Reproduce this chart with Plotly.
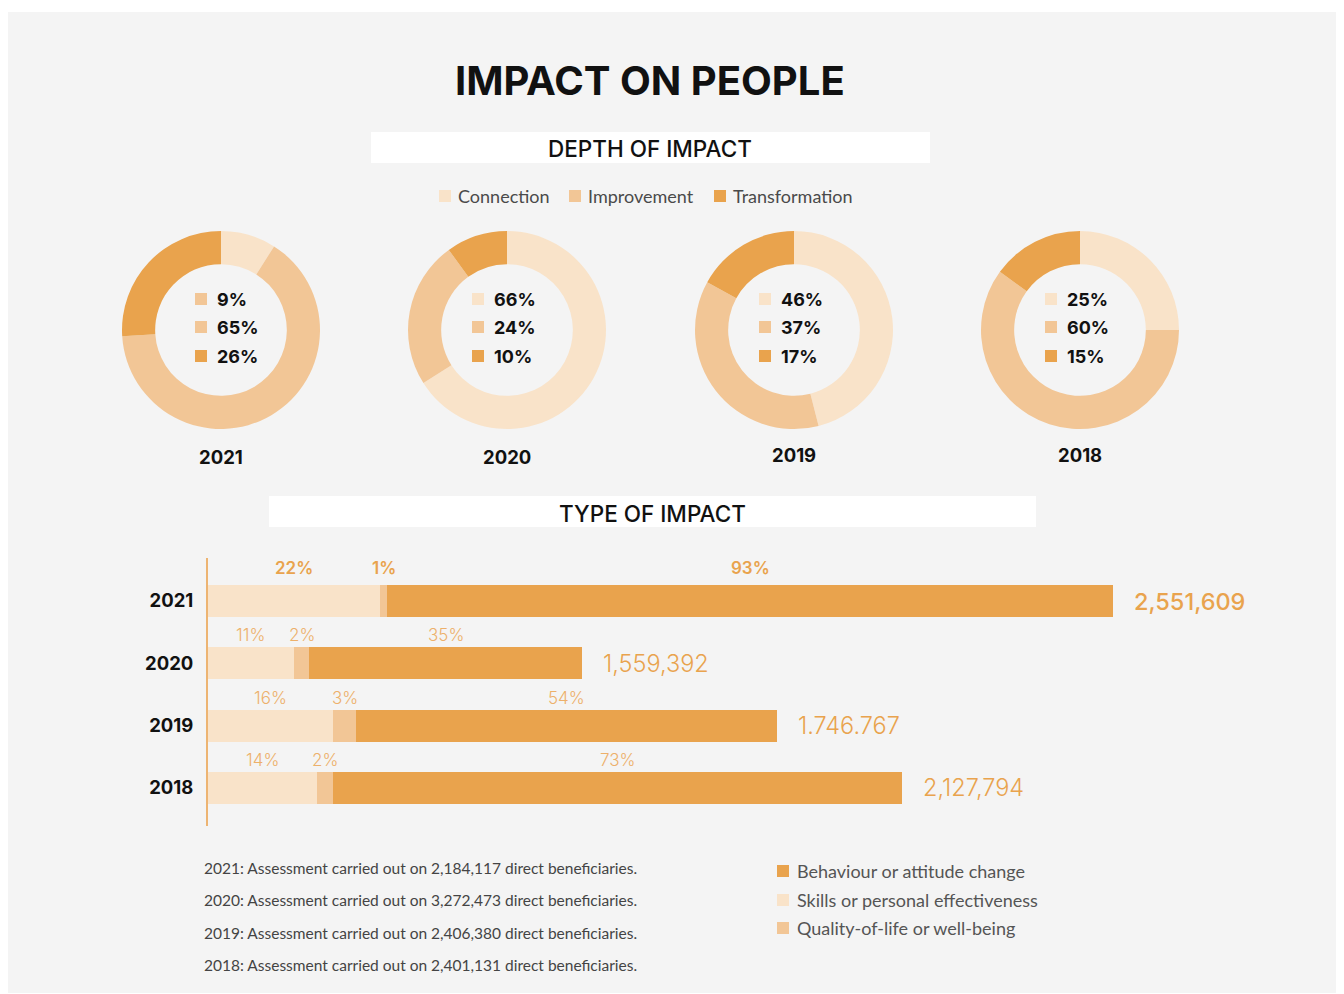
import plotly.graph_objects as go

W, H = 1344, 994

# ---------------- data ----------------
depth_categories = ["Connection", "Improvement", "Transformation"]
depth_years = ["2021", "2020", "2019", "2018"]
depth_2021 = [9, 65, 26]
depth_2020 = [66, 24, 10]
depth_2019 = [46, 37, 17]
depth_2018 = [25, 60, 15]
depth_values = [depth_2021, depth_2020, depth_2019, depth_2018]

type_years = ["2021", "2020", "2019", "2018"]
skills_pct = [22, 11, 16, 14]
quality_pct = [1, 2, 3, 2]
behaviour_pct = [93, 35, 54, 73]
totals_text = ["2,551,609", "1,559,392", "1.746.767", "2,127,794"]
type_legend = ["Behaviour or attitude change", "Skills or personal effectiveness",
               "Quality-of-life or well-being"]

footnotes = [
    "2021: Assessment carried out on 2,184,117 direct beneficiaries.",
    "2020: Assessment carried out on 3,272,473 direct beneficiaries.",
    "2019: Assessment carried out on 2,406,380 direct beneficiaries.",
    "2018: Assessment carried out on 2,401,131 direct beneficiaries.",
]

# ---------------- styles ----------------
C_CONN = "#F9E3C9"
C_IMPR = "#F2C696"
C_TRAN = "#E9A34D"
depth_colors = [C_CONN, C_IMPR, C_TRAN]
BG = "#F4F4F4"
HEAD = "Inter"
BODY = "Lato"
OFF = 8  # page body margin


def px(x):
    return (x - OFF) / W


def py(y):
    return 1 - (y - OFF) / H


fig = go.Figure()
shapes = []
ann = []


def txt(text, x, y, size, color, family=HEAD, weight=400, xanchor="center"):
    ann.append(dict(text=text, x=px(x), y=py(y), xref="paper", yref="paper",
                    xanchor=xanchor, yanchor="middle", showarrow=False,
                    font=dict(family=family, size=size, color=color, weight=weight)))


def square(x0, yc, col, s=12):
    shapes.append(dict(type="rect", xref="paper", yref="paper", x0=px(x0), x1=px(x0 + s),
                       y0=py(yc + s / 2), y1=py(yc - s / 2), fillcolor=col, line_width=0))


# background panel
shapes.append(dict(type="rect", xref="paper", yref="paper", x0=px(8), x1=px(1339),
                   y0=py(993), y1=py(12), fillcolor=BG, line_width=0, layer="below"))
# header boxes
shapes.append(dict(type="rect", xref="paper", yref="paper", x0=px(371), x1=px(930),
                   y0=py(163), y1=py(132), fillcolor="white", line_width=0, layer="below"))
shapes.append(dict(type="rect", xref="paper", yref="paper", x0=px(269), x1=px(1036),
                   y0=py(527), y1=py(496), fillcolor="white", line_width=0, layer="below"))

txt("IMPACT ON PEOPLE", 650, 81, 40, "#111", weight=700)
txt("DEPTH OF IMPACT", 650, 148, 22.5, "#111", weight=500)
txt("TYPE OF IMPACT", 652, 513, 22.5, "#111", weight=500)

# depth legend
leg_sq_x = [439, 569, 714]
for cat, col, sx in zip(depth_categories, depth_colors, leg_sq_x):
    square(sx, 196, col)
    txt(cat, sx + 17, 196, 18, "#4a4a4a", family=BODY, xanchor="left")

# donuts
centers = [221, 507, 794, 1080]
year_label_y = [457, 457, 455, 455]
R = 99
for i, (yr, vals, cx) in enumerate(zip(depth_years, depth_values, centers)):
    fig.add_trace(go.Pie(
        labels=depth_categories, values=vals, hole=0.665, sort=False,
        direction="clockwise", rotation=0, textinfo="none", hoverinfo="label+percent",
        marker=dict(colors=depth_colors, line=dict(width=0)), showlegend=False,
        domain=dict(x=[px(cx - R), px(cx + R)], y=[py(330 + R), py(330 - R)]),
    ))
    txt(yr, cx, year_label_y[i], 18.5, "#111", weight=700)
    sq_cols = [C_IMPR, C_IMPR, C_TRAN] if i == 0 else depth_colors
    off = -20 if i == 0 else -29
    for j, (v, rowy) in enumerate(zip(vals, [299, 327, 356])):
        square(cx + off - 6, rowy, sq_cols[j])
        txt(f"{v}%", cx + off + 14, rowy, 18, "#111", weight=700, xanchor="left")

# stacked bars
cat_order = ["2018", "2019", "2020", "2021"]
series = [("Skills or personal effectiveness", skills_pct, C_CONN),
          ("Quality-of-life or well-being", quality_pct, C_IMPR),
          ("Behaviour or attitude change", behaviour_pct, C_TRAN)]
for name, vals, col in series:
    fig.add_trace(go.Bar(
        name=name, y=type_years, x=vals, orientation="h", width=0.51,
        marker=dict(color=col, line=dict(width=0)), showlegend=False,
        xaxis="x", yaxis="y", hoverinfo="x+name",
    ))

for k, yr in enumerate(type_years):
    yi = cat_order.index(yr)
    segs = [skills_pct[k], quality_pct[k], behaviour_pct[k]]
    start = 0
    bold = (k == 0)
    for s in segs:
        ann.append(dict(text=f"{s}%", x=start + s / 2, y=yi, xref="x", yref="y",
                        yanchor="middle", xanchor="center",
                        yshift=33 if bold else 28, showarrow=False,
                        font=dict(family=HEAD, size=17,
                                  color="#E9A34D" if bold else "#EDB06A",
                                  weight=600 if bold else 300)))
        start += s
    ann.append(dict(text=totals_text[k], x=start, y=yi, xref="x", yref="y",
                    xanchor="left", yanchor="middle", xshift=19, showarrow=False,
                    font=dict(family=HEAD, size=23.5, color="#E9A34D",
                              weight=500 if bold else 300)))

# footnotes
for t, fy in zip(footnotes, [868, 900, 933, 965]):
    txt(t, 202, fy, 15.5, "#444", family=BODY, xanchor="left")

# type legend
leg_cols = [C_TRAN, C_CONN, C_IMPR]
for name, col, ly in zip(type_legend, leg_cols, [871, 900, 928]):
    square(777, ly, col)
    txt(name, 795, ly, 18, "#555", family=BODY, xanchor="left")

fig.update_layout(
    width=W, height=H, margin=dict(l=0, r=0, t=0, b=0),
    paper_bgcolor="white", plot_bgcolor="rgba(0,0,0,0)",
    barmode="stack", bargap=0,
    shapes=shapes, annotations=ann, showlegend=False,
    xaxis=dict(domain=[px(208), px(1300)], range=[0, 140], visible=False, fixedrange=True),
    yaxis=dict(domain=[py(826), py(558)], type="category",
               categoryorder="array", categoryarray=cat_order,
               range=[-0.61, 3.69], showline=True, linecolor="#EDB472", linewidth=2,
               showgrid=False, zeroline=False, ticks="", ticklabelstandoff=9,
               tickfont=dict(family=HEAD, size=18.5, color="#111", weight=700),
               fixedrange=True),
)

fig.write_html("out.html")
